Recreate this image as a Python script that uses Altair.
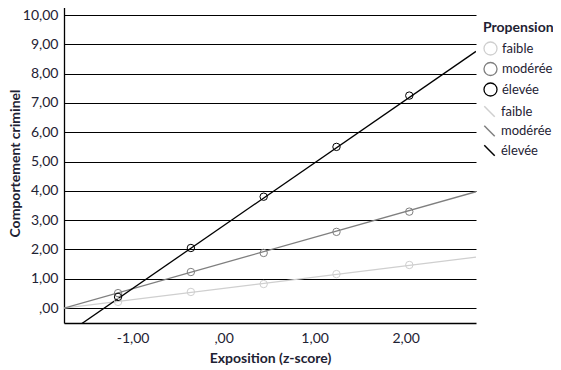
import altair as alt
import pandas as pd

levels = ["faible", "modérée", "élevée"]
colors = ["#cfcfcf", "#7f7f7f", "#000000"]

exposition = [-1.16, -0.36, 0.44, 1.24, 2.04]
crime_faible = [0.21, 0.55, 0.82, 1.16, 1.47]
crime_moderee = [0.51, 1.23, 1.88, 2.60, 3.29]
crime_elevee = [0.38, 2.05, 3.80, 5.50, 7.25]

line_x = [-1.754, 2.773]
line_faible = [0.0, 1.74]
line_moderee = [0.0, 3.97]
line_elevee = [-0.95, 8.76]

y_ticks = [0, 1, 2, 3, 4, 5, 6, 7, 8, 9, 10]
x_ticks = [-1, 0, 1, 2]

pts = pd.DataFrame({
    "x": exposition * 3,
    "y": crime_faible + crime_moderee + crime_elevee,
    "Propension": [levels[0]] * 5 + [levels[1]] * 5 + [levels[2]] * 5,
})
lines = pd.DataFrame({
    "x": line_x * 3,
    "y": line_faible + line_moderee + line_elevee,
    "Propension ": [levels[0]] * 2 + [levels[1]] * 2 + [levels[2]] * 2,
})

FONT = "Lato"
TXT = "#1e2233"
label_expr = "datum.value == 0 ? ',00' : replace(replace(format(datum.value, '.2f'), '.', ','), '−', '-')"

x_enc = alt.X("x:Q", scale=alt.Scale(domain=[-1.754, 2.773], nice=False, zero=False),
              axis=alt.Axis(values=x_ticks, labelExpr=label_expr, grid=False, ticks=False,
                            title="Exposition (z-score)", labelPadding=8, titlePadding=6))
y_enc = alt.Y("y:Q", scale=alt.Scale(domain=[-0.51, 10.41], nice=False, zero=False),
              axis=alt.Axis(values=y_ticks, labelExpr=label_expr, grid=True, ticks=False,
                            gridColor="#000000", gridWidth=1, gridOpacity=1,
                            title="Comportement criminel", labelPadding=6, titlePadding=0))

line_layer = alt.Chart(lines).mark_line(clip=True, strokeWidth=1.3).encode(
    x=x_enc, y=y_enc,
    stroke=alt.Stroke("Propension :N", scale=alt.Scale(domain=levels, range=colors),
                      legend=alt.Legend(title=None, orient="none", legendX=419, legendY=102,
                                        symbolType="M -1 -1 L 1 1", symbolSize=110,
                                        symbolStrokeWidth=1.5, symbolFillColor="transparent",
                                        rowPadding=2.5, labelOffset=5)),
    detail="Propension :N",
)
pt_layer = alt.Chart(pts).mark_point(filled=False, size=55, strokeWidth=1, opacity=1).encode(
    x=x_enc, y=y_enc,
    color=alt.Color("Propension:N", scale=alt.Scale(domain=levels, range=colors),
                    legend=alt.Legend(title="Propension", orient="none", legendX=419, legendY=18,
                                      symbolSize=170, symbolStrokeWidth=1.3,
                                      rowPadding=1.5, labelOffset=4, titlePadding=6)),
)

chart = alt.layer(line_layer, pt_layer).resolve_scale(color="independent", stroke="independent").properties(
    width=412, height=320,
    autosize=alt.AutoSizeParams(type="none"),
    padding={"left": 56, "top": -5, "right": 77, "bottom": 47},
).configure_view(stroke=None).configure_axis(
    labelFont=FONT, titleFont=FONT, labelFontSize=14, titleFontSize=14,
    labelColor=TXT, titleColor=TXT, titleFontWeight="bold",
    domainColor="#000000", domainWidth=1.3,
).configure_legend(
    labelFont=FONT, titleFont=FONT, labelFontSize=13, titleFontSize=14,
    labelColor=TXT, titleColor=TXT, titleFontWeight="bold",
)

chart.save("out.html", embed_options={"renderer": "svg", "actions": False})
